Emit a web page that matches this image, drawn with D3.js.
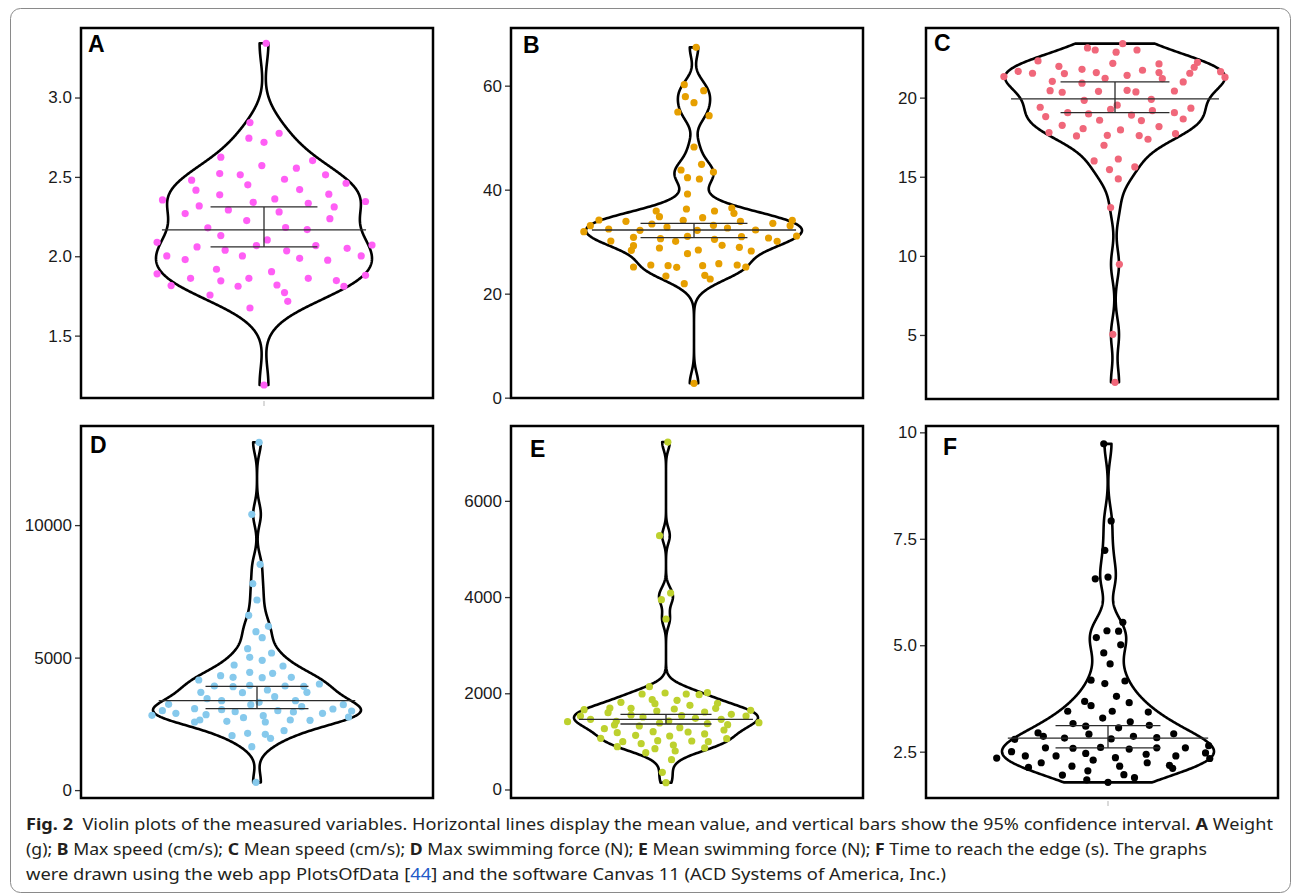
<!DOCTYPE html>
<html>
<head>
<meta charset="utf-8">
<script src="https://cdn.jsdelivr.net/npm/d3@7"></script>
<style>
  body { margin: 0; background: #fff; }
  svg { display: block; }
</style>
</head>
<body>
<div id="figure"></div>
<script>
// every dot is [jitter, value]; jitter runs -1..1 across the violin's half width
const weight = [[0.02,3.342],[-0.13,2.842],[-0.14,2.744],[0,2.718],[0.14,2.775],[-0.4,2.624],[0.45,2.603],[-0.02,2.571],[0.3,2.555],[-0.41,2.521],[-0.22,2.513],[0.57,2.513],[-0.67,2.479],[-0.15,2.45],[0.19,2.485],[0.76,2.46],[-0.63,2.416],[0.33,2.42],[-0.41,2.387],[0.6,2.391],[-0.94,2.355],[-0.1,2.34],[0.1,2.361],[0.41,2.334],[0.94,2.345],[-0.6,2.317],[0.65,2.311],[-0.73,2.269],[-0.33,2.292],[0.14,2.279],[-0.16,2.225],[0.61,2.237],[-0.52,2.179],[0.2,2.181],[0.4,2.168],[-0.4,2.13],[0.03,2.103],[-0.99,2.088],[1,2.071],[-0.62,2.059],[-0.07,2.067],[0.48,2.067],[-0.36,2.038],[0.21,2.034],[0.77,2.05],[-0.9,2.002],[-0.73,1.979],[-0.2,2.002],[0.33,1.987],[0.59,1.975],[0.9,2.002],[-0.44,1.918],[0.07,1.903],[-0.99,1.889],[-0.68,1.861],[-0.4,1.845],[-0.14,1.861],[0.41,1.861],[0.67,1.847],[0.94,1.88],[-0.86,1.815],[-0.24,1.811],[0.12,1.819],[0.74,1.811],[-0.5,1.756],[0.19,1.771],[0.22,1.716],[-0.13,1.674],[0,1.189]];

const maxSpeed = [[0.02,67.37],[-0.09,60.19],[0.09,59.04],[-0.08,57.88],[0,56.73],[-0.15,54.94],[0.14,54.23],[0,48.21],[0.07,44.87],[-0.12,43.78],[0.18,43.4],[-0.06,42.31],[0.05,42.05],[-0.06,39.17],[-0.07,36.28],[-0.35,35.9],[0.19,35.9],[0.35,36.47],[0.37,35.45],[-0.32,34.81],[0.08,34.62],[-0.88,34.17],[-0.63,33.91],[-0.1,34.1],[0.43,33.91],[0.73,33.53],[0.91,34.1],[-0.96,33.08],[-0.39,33.4],[-0.25,32.82],[0.18,33.14],[0.89,33.08],[-0.79,32.44],[-0.5,32.18],[0.31,32.63],[0.57,32.24],[-1.02,31.92],[0.03,32.18],[-0.56,30.83],[-0.06,31.03],[0.44,30.96],[0.95,31.09],[0.69,30.71],[-0.77,30.13],[-0.31,30.58],[-0.17,30.06],[0.19,30.45],[0.77,30.06],[-0.56,29.23],[0.26,29.29],[-0.58,28.33],[-0.32,28.78],[0.04,28.4],[0.42,28.91],[0.53,28.21],[-0.06,27.69],[-0.56,25.13],[-0.4,25.51],[-0.24,25.38],[-0.16,25.06],[0.08,25.38],[0.23,25.77],[0.4,25.51],[0.48,25.13],[-0.26,23.4],[0.1,23.53],[0.15,22.82],[-0.09,21.92],[0,2.76]];

const meanSpeed = [[0.07,23.41],[-0.25,23.14],[-0.18,23.01],[0.01,22.87],[0.2,23.01],[-0.7,22.32],[-0.02,22.17],[0.4,22.13],[0.75,22.23],[0.72,21.92],[-0.51,21.98],[-0.88,21.66],[-0.75,21.54],[-0.3,21.79],[-0.17,21.58],[-0.46,21.52],[0.25,21.73],[0.4,21.58],[0.11,21.41],[0.68,21.54],[0.96,21.64],[-1.01,21.33],[-0.09,21.22],[0.43,21.2],[1,21.29],[-0.57,21.03],[-0.3,20.91],[0.62,20.99],[-0.59,20.44],[-0.48,20.34],[-0.15,20.4],[0.11,20.46],[0.19,20.36],[0.54,20.42],[-0.28,19.83],[0.33,19.89],[-0.68,19.39],[0.02,19.52],[-0.04,19.26],[0.69,19.33],[-0.43,19.05],[-0.24,18.97],[0.34,19.18],[0.54,19.05],[-0.63,18.8],[0.15,18.9],[-0.14,18.57],[0.24,18.55],[0.62,18.65],[-0.48,18.25],[-0.29,18.04],[0.4,18.17],[0.05,17.96],[-0.6,17.79],[-0.35,17.58],[-0.07,17.62],[0.22,17.6],[0.3,17.37],[0.55,17.72],[-0.1,16.99],[-0.19,16],[0.03,16.12],[0.18,15.62],[-0.05,15.45],[0.03,14.86],[-0.04,13.05],[0.04,9.47],[-0.02,5.04],[0,2.01]];

const maxForce = [[0.02,13124],[-0.05,10407],[0.03,8520],[-0.04,7790],[0,7174],[-0.08,6595],[0.11,6180],[-0.01,5979],[0.05,5752],[-0.09,5337],[0.14,5174],[-0.07,5010],[0.05,4897],[-0.22,4721],[0.25,4683],[-0.07,4444],[0.15,4406],[-0.35,4318],[-0.23,4255],[0.05,4243],[0.33,4255],[-0.56,4155],[0.6,4004],[-0.41,3928],[-0.23,3903],[-0.07,3954],[0.27,3928],[0.45,3916],[-0.54,3689],[-0.14,3677],[0.1,3777],[0.48,3689],[-0.48,3450],[0.17,3526],[-0.34,3375],[0.37,3375],[0.02,3312],[-0.85,3237],[-0.06,3224],[0.83,3224],[0.43,3149],[-0.6,3073],[-0.34,3035],[0.73,3060],[-0.91,2998],[-0.21,2960],[0.2,2998],[0.35,2947],[0.91,2985],[-0.78,2897],[-0.49,2847],[0.63,2897],[0.06,2809],[-1.01,2821],[-0.13,2733],[0.88,2759],[-0.55,2645],[0.32,2645],[0.51,2633],[-0.6,2570],[-0.29,2595],[0.08,2570],[-0.24,2054],[-0.09,2142],[0.08,2104],[0.13,1953],[0.26,2243],[-0.05,1639],[-0.01,293]];

const meanForce = [[0.02,7222],[-0.07,5276],[0.05,4084],[-0.05,3945],[0,3544],[-0.18,2137],[-0.01,2006],[-0.26,1985],[0.22,1985],[0.36,1971],[0.45,2013],[-0.15,1867],[0.12,1853],[-0.12,1784],[-0.49,1812],[0.26,1749],[0.56,1791],[-0.38,1687],[-0.61,1694],[0.09,1673],[0.54,1687],[-0.89,1659],[-0.63,1597],[-0.1,1632],[0.42,1611],[0.92,1645],[-0.38,1548],[-0.25,1507],[0.17,1535],[0.71,1562],[0.87,1528],[-0.93,1528],[-0.82,1458],[0.32,1479],[0.03,1424],[0.6,1458],[-0.54,1417],[-0.07,1382],[0.45,1368],[-1.07,1410],[-0.56,1341],[1.01,1389],[0.67,1348],[-0.29,1320],[0.15,1285],[-0.67,1264],[-0.14,1202],[0.24,1195],[0.63,1237],[-0.53,1181],[-0.33,1126],[0.04,1112],[0.42,1154],[-0.71,1063],[-0.09,1015],[0.28,1008],[0.66,1057],[-0.47,994],[0.46,994],[-0.27,953],[0.08,925],[-0.53,890],[-0.12,849],[0.1,800],[0.42,863],[-0.22,766],[0.06,620],[-0.04,357],[0,142]];

const edgeTime = [[-0.04,9.73],[0.03,7.92],[-0.03,7.23],[-0.12,6.56],[0,6.6],[0.14,5.54],[-0.01,5.34],[0.1,5.33],[-0.11,5.18],[0.12,5.01],[-0.04,4.82],[0.02,4.56],[-0.16,4.18],[0.16,4.16],[-0.03,4.1],[0.08,3.8],[-0.22,3.68],[-0.16,3.58],[0.2,3.65],[-0.38,3.45],[0.04,3.45],[0.38,3.43],[-0.05,3.29],[0.21,3.2],[-0.33,3.16],[-0.21,3.1],[0.1,3.06],[0.39,3.12],[-0.66,2.94],[-0.61,2.86],[-0.18,2.91],[0.62,2.92],[-0.88,2.79],[-0.41,2.82],[0.03,2.8],[0.24,2.86],[0.46,2.83],[-0.59,2.59],[-0.33,2.58],[-0.07,2.6],[0.2,2.56],[0.46,2.59],[0.73,2.59],[-0.91,2.5],[-0.21,2.46],[0.95,2.64],[-0.78,2.4],[-0.49,2.4],[0.36,2.44],[0.92,2.47],[0.64,2.4],[-1.05,2.35],[-0.14,2.3],[0.07,2.36],[0.96,2.34],[-0.63,2.24],[0.37,2.24],[-0.75,2.13],[-0.34,2.16],[0.11,2.16],[0.58,2.18],[0.61,2.11],[-0.19,2.05],[-0.43,1.95],[0.15,1.96],[-0.2,1.84],[0.25,1.89],[0,1.78]];

const panelNames = ["A", "B", "C", "D", "E", "F"];
const panelData = [weight, maxSpeed, meanSpeed, maxForce, meanForce, edgeTime];

// mean and 95% confidence interval, as drawn
const means  = [2.166, 32.24, 19.92, 3375, 1458, 2.82];
const ciLow  = [2.059, 30.77, 19.05, 3074, 1361, 2.59];
const ciHigh = [2.311, 33.53, 20.99, 3918, 1562, 3.11];

// y axes: tick values, their labels, and the values sitting at the frame's bottom / top edge
const yTicks = [[1.5, 2.0, 2.5, 3.0], [0, 20, 40, 60], [5, 10, 15, 20], [0, 5000, 10000], [0, 2000, 4000, 6000], [2.5, 5.0, 7.5, 10]];
const yTickLabels = [["1.5", "2.0", "2.5", "3.0"], ["0", "20", "40", "60"], ["5", "10", "15", "20"], ["0", "5000", "10000"], ["0", "2000", "4000", "6000"], ["2.5", "5.0", "7.5", "10"]];
const yDomains = [[1.107, 3.438], [-0.064, 71.09], [0.953, 24.40], [-298, 13740], [-177, 7556], [1.412, 10.149]];

// where each panel goes on the page + how it looks
const layout = [
    { frame: [81, 28, 433, 398],    cx: 264,  hw: 108, color: "#ff5ef5", label: [7, 24],  xTick: true },
    { frame: [511, 28, 863, 398],   cx: 694,  hw: 108, color: "#e69f00", label: [12, 25], xTick: false },
    { frame: [926, 28, 1278, 399],  cx: 1115, hw: 110, color: "#f0677a", label: [8, 23],  xTick: false },
    { frame: [81, 426, 433, 798],   cx: 257,  hw: 104, color: "#86c9ec", label: [9, 27],  xTick: false },
    { frame: [511, 426, 863, 798],  cx: 666,  hw: 92,  color: "#bdd12e", label: [19, 31], xTick: false },
    { frame: [926, 426, 1278, 798], cx: 1108, hw: 106, color: "#000000", label: [17, 29], xTick: true }
];

// gaussian kernel density, bandwidth like R's bw.nrd0
function bwNrd0(vals) {
    var s = vals.slice().sort(d3.ascending);
    var sd = d3.deviation(s);
    var iqr = d3.quantileSorted(s, 0.75) - d3.quantileSorted(s, 0.25);
    var lo = Math.min(sd, iqr / 1.34);
    return 0.9 * lo * Math.pow(s.length, -0.2);
}
function kde(vals, bw, v) {
    var sum = 0;
    vals.forEach(function (x) {
        var u = (v - x) / bw;
        sum += Math.exp(-0.5 * u * u);
    });
    return sum / (vals.length * bw * Math.sqrt(2 * Math.PI));
}

class ViolinPanel {
    constructor(svg, i) {
        this.svg = svg;
        this.name = panelNames[i];
        this.points = panelData[i];
        this.mean = means[i];
        this.lo = ciLow[i];
        this.hi = ciHigh[i];
        this.ticks = yTicks[i];
        this.tickLabels = yTickLabels[i];
        this.domain = yDomains[i];
        this.lay = layout[i];
    }

    draw() {
        var that = this;
        var L = this.lay;
        var x0 = L.frame[0], y0 = L.frame[1], x1 = L.frame[2], y1 = L.frame[3];

        var y = d3.scaleLinear().domain(this.domain).range([y1, y0]);
        var x = d3.scaleLinear().domain([-1, 1]).range([L.cx - L.hw, L.cx + L.hw]);

        var g = this.svg.append("g").attr("class", "panel-" + this.name);

        // y axis
        var yAxis = d3.axisLeft(y)
            .tickValues(this.ticks)
            .tickFormat(function (d, k) { return that.tickLabels[k]; })
            .tickSize(6)
            .tickPadding(3);
        var ax = g.append("g")
            .attr("transform", "translate(" + x0 + ",0)")
            .call(yAxis);
        ax.select(".domain").remove();
        ax.selectAll(".tick line").attr("stroke", "#333").attr("stroke-width", 1.3);
        ax.selectAll(".tick text")
            .style("font-family", "'Liberation Sans', Arial, sans-serif")
            .style("font-size", "17px")
            .attr("fill", "#1a1a1a");

        // little leftover x tick under some panels
        if (L.xTick) {
            g.append("line")
                .attr("x1", x(0)).attr("x2", x(0))
                .attr("y1", y1 + 3).attr("y2", y1 + 8)
                .attr("stroke", "#b5b5b5").attr("stroke-width", 1);
        }

        // violin outline from the kde, trimmed to the data range
        var vals = this.points.map(function (p) { return p[1]; });
        var bw = bwNrd0(vals);
        var vmin = d3.min(vals), vmax = d3.max(vals);
        var grid = d3.range(512).map(function (k) { return vmin + (vmax - vmin) * k / 511; });
        var dens = grid.map(function (v) { return [v, kde(vals, bw, v)]; });
        var dmax = d3.max(dens, function (d) { return d[1]; });
        var right = dens.map(function (d) { return [d[1] / dmax, d[0]]; });
        var left = dens.slice().reverse().map(function (d) { return [-d[1] / dmax, d[0]]; });

        var line = d3.line()
            .x(function (d) { return x(d[0]); })
            .y(function (d) { return y(d[1]); });

        g.append("path")
            .attr("d", line(right.concat(left)) + "Z")
            .attr("fill", "none")
            .attr("stroke", "#000")
            .attr("stroke-width", 2.6)
            .attr("stroke-linejoin", "round");

        // jittered dots
        g.selectAll("circle.dot")
            .data(this.points)
            .enter()
            .append("circle")
            .attr("class", "dot")
            .attr("cx", function (d) { return x(d[0]); })
            .attr("cy", function (d) { return y(d[1]); })
            .attr("r", 3.6)
            .attr("fill", L.color);

        // mean line + CI bar
        var stat = g.append("g").attr("stroke", "#2b2b2b").attr("stroke-width", 1.3);
        stat.append("line")
            .attr("x1", x(-0.945)).attr("x2", x(0.945))
            .attr("y1", y(this.mean)).attr("y2", y(this.mean));
        [this.lo, this.hi].forEach(function (v) {
            stat.append("line")
                .attr("x1", x(-0.495)).attr("x2", x(0.495))
                .attr("y1", y(v)).attr("y2", y(v));
        });
        stat.append("line")
            .attr("x1", x(0)).attr("x2", x(0))
            .attr("y1", y(this.lo)).attr("y2", y(this.hi));

        // frame
        g.append("rect")
            .attr("x", x0).attr("y", y0)
            .attr("width", x1 - x0).attr("height", y1 - y0)
            .attr("fill", "none")
            .attr("stroke", "#000")
            .attr("stroke-width", 2.5);

        g.append("text")
            .attr("x", x0 + L.label[0])
            .attr("y", y0 + L.label[1])
            .style("font-family", "'Liberation Sans', Arial, sans-serif")
            .style("font-weight", "bold")
            .style("font-size", "23px")
            .attr("fill", "#000")
            .text(this.name);
    }
}

var svg = d3.select("#figure")
    .append("svg")
    .attr("width", 1293)
    .attr("height", 894);

svg.append("rect")
    .attr("x", 10.5).attr("y", 8.5)
    .attr("width", 1280).attr("height", 884)
    .attr("rx", 10)
    .attr("fill", "#fff")
    .attr("stroke", "#8a8a8a")
    .attr("stroke-width", 1);

panelNames.forEach(function (n, i) {
    new ViolinPanel(svg, i).draw();
});

// caption, one text per line; [text, bold?, colour]
var captionLines = [
    { y: 830, width: 1247, parts: [["Fig. 2", true], ["  Violin plots of the measured variables. Horizontal lines display the mean value, and vertical bars show the 95% confidence interval. ", false], ["A", true], [" Weight", false]] },
    { y: 855, width: 1181, parts: [["(g); ", false], ["B", true], [" Max speed (cm/s); ", false], ["C", true], [" Mean speed (cm/s); ", false], ["D", true], [" Max swimming force (N); ", false], ["E", true], [" Mean swimming force (N); ", false], ["F", true], [" Time to reach the edge (s). The graphs", false]] },
    { y: 880, width: 920, parts: [["were drawn using the web app PlotsOfData [", false], ["44", false, "#2259c9"], ["] and the software Canvas 11 (ACD Systems of America, Inc.)", false]] }
];

captionLines.forEach(function (ln) {
    var t = svg.append("text")
        .attr("x", 26)
        .attr("y", ln.y)
        .style("font-family", "'Noto Sans', 'Open Sans', sans-serif")
        .style("font-size", "16.5px")
        .style("white-space", "pre")
        .attr("fill", "#231f20");
    ln.parts.forEach(function (p) {
        t.append("tspan")
            .style("font-weight", p[1] ? "bold" : "normal")
            .attr("fill", p[2] || null)
            .text(p[0]);
    });
    t.attr("textLength", ln.width).attr("lengthAdjust", "spacingAndGlyphs");
});
</script>
</body>
</html>
